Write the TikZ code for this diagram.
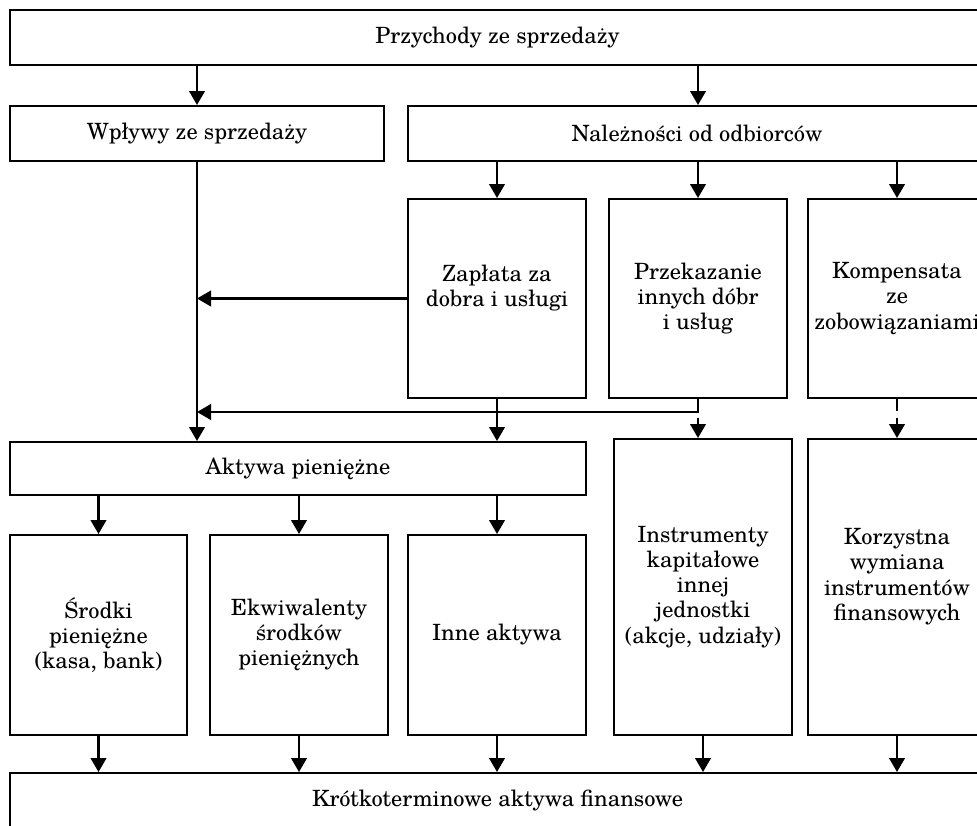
\documentclass[tikz,border=0pt]{standalone}
\usepackage{fontspec}
\setmainfont{TeX Gyre Schola}
\usetikzlibrary{arrows.meta}
\begin{document}
\begin{tikzpicture}[x=0.5pt,y=-0.5pt,
  box/.style={draw,line width=1pt,inner sep=0pt,align=center,
    font=\fontsize{11.2pt}{12.6pt}\selectfont},
  arr/.style={line width=1.1pt,-{Triangle[length=7pt,width=7.8pt]}},
  brk/.style={arr,dash pattern=on 6pt off 3.5pt on 200pt}]
\useasboundingbox (0,0) rectangle (977,825);
\clip (0,0) rectangle (977,825);

% first level
\node[box,minimum width=487.5pt,minimum height=27.5pt] (top) at (497.5,37.5) {Przychody ze sprzedaży};
\node[box,minimum width=187pt,minimum height=27.5pt] (wp) at (197,133.5) {Wpływy ze sprzedaży};
\node[box,minimum width=289pt,minimum height=27.5pt] (nal) at (697,133.5) {Należności od odbiorców};

% settlement of receivables
\node[box,minimum width=89pt,minimum height=99.5pt] (zap) at (497,298.5) {Zapłata za\\dobra i usługi\\\mbox{}};
\node[box,minimum width=89pt,minimum height=99.5pt] (prz) at (698,298.5) {Przekazanie\\innych dóbr\\i usług};
\node[box,minimum width=89pt,minimum height=99.5pt] (kom) at (897,298.5) {Kompensata\\ze\\zobowiązaniami};

% monetary assets and their parts
\node[box,minimum width=288pt,minimum height=26.5pt] (akt) at (298,468.5) {Aktywa pieniężne};
\node[box,minimum width=88.5pt,minimum height=100pt] (sro) at (98.5,635) {Środki\\pieniężne\\(kasa, bank)};
\node[box,minimum width=89pt,minimum height=100pt] (ekw) at (299,635) {Ekwiwalenty\\środków\\pieniężnych};
\node[box,minimum width=89pt,minimum height=100pt] (inn) at (497,635) {Inne aktywa};
\node[box,minimum width=89pt,minimum height=148pt] (ins) at (703,587) {Instrumenty\\kapitałowe\\innej\\jednostki\\(akcje, udziały)};
\node[box,minimum width=89pt,minimum height=148pt] (kor) at (897,587) {Korzystna\\wymiana\\instrumentów\\finansowych\\\mbox{}};

% result
\node[box,minimum width=487.5pt,minimum height=27.5pt] (bot) at (497.5,800.5) {Krótkoterminowe aktywa finansowe};

% connectors from the top
\draw[arr] (wp.north |- top.south) -- (wp.north);
\draw[arr] (prz.north |- top.south) -- (prz.north |- nal.north);
\draw[arr] (zap.north |- nal.south) -- (zap.north);
\draw[arr] (prz.north |- nal.south) -- (prz.north);
\draw[arr] (kom.north |- nal.south) -- (kom.north);

% flows into monetary assets
\coordinate (lvl) at (0,412);
\coordinate (j) at (wp.south |- lvl);
\draw[arr] (wp.south) -- (wp.south |- akt.north);
\draw[arr] (zap.west) -- (zap.west -| wp.south);
\draw[arr] (prz.south) |- (j);
\draw[arr] (zap.south) -- (zap.south |- akt.north);
\draw[brk] (prz.south) -- (prz.south |- ins.north);
\draw[brk] (kom.south) -- (kom.south |- kor.north);

% split of monetary assets
\draw[arr] (sro.north |- akt.south) -- (sro.north);
\draw[arr] (ekw.north |- akt.south) -- (ekw.north);
\draw[arr] (inn.north |- akt.south) -- (inn.north);

% into short-term financial assets
\foreach \n in {sro,ekw,inn,ins,kor}
  \draw[arr] (\n.south) -- (\n.south |- bot.north);
\end{tikzpicture}
\end{document}
